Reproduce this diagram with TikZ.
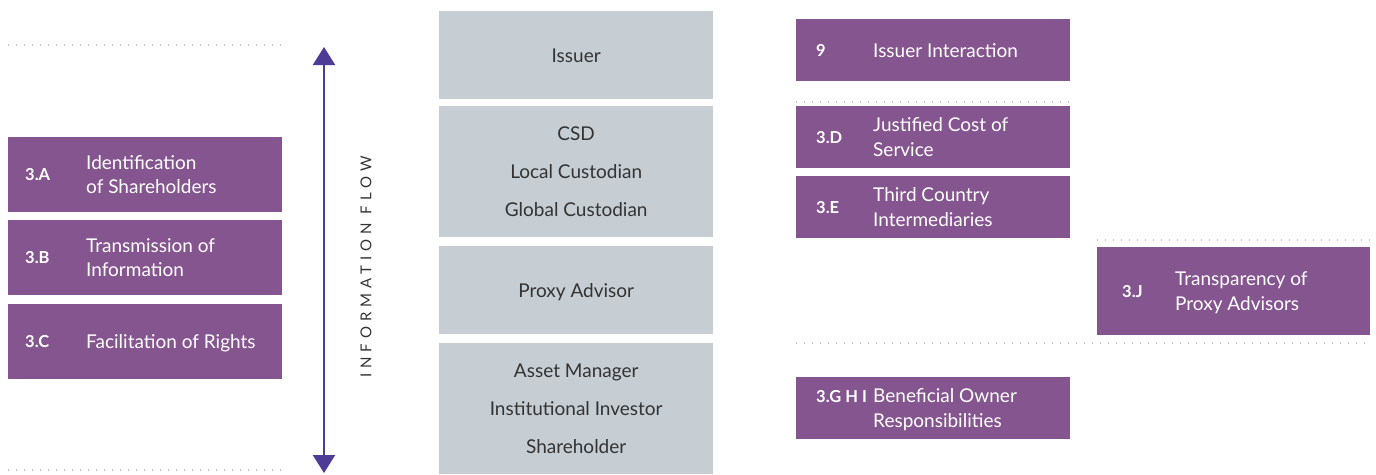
\documentclass[tikz,border=0pt]{standalone}
\usepackage{fontspec}
\setmainfont{Lato}
\usetikzlibrary{arrows.meta,positioning}

\definecolor{artpurple}{HTML}{85558F}
\definecolor{chaingray}{HTML}{C6CED4}
\definecolor{flowblue}{HTML}{4D3B97}
\definecolor{dotgray}{HTML}{C4C4C4}
\definecolor{inktext}{HTML}{333333}

\begin{document}
\begin{tikzpicture}[x=1pt,y=-1pt,
                    artbox/.style={rectangle, fill=artpurple, minimum width=274pt, inner sep=0pt, anchor=north west},
                    chainbox/.style={rectangle, fill=chaingray, minimum width=274pt, inner sep=0pt, anchor=north west,
                                     text=inktext, align=center, text depth=-5pt, font=\fontsize{19}{38}\selectfont},
                    code/.style={anchor=west, inner sep=0pt, text=white, text depth=-1pt, font=\fontsize{16.5}{20}\selectfont\bfseries},
                    title/.style={anchor=west, inner sep=0pt, text=white, align=left, text depth=-2pt, font=\fontsize{19}{24.5}\selectfont},
                    divider/.style={dotgray, line width=1.1pt, dash pattern=on 1.2pt off 6.8pt}]
  \useasboundingbox (0,0) rectangle (1376,474);

  % dotted dividers
  \coordinate (ltop a) at (8,45);     \coordinate (ltop b) at (282,45);
  \coordinate (lbot a) at (8,470);    \coordinate (lbot b) at (282,470);
  \coordinate (rtop a) at (796,102);  \coordinate (rtop b) at (1070,102);
  \coordinate (rmid a) at (1097,240); \coordinate (rmid b) at (1370,240);
  \coordinate (rlow a) at (796,343);  \coordinate (rlow b) at (1370,343);
  \draw[divider] (ltop a) -- (ltop b);
  \draw[divider] (lbot a) -- (lbot b);
  \draw[divider] (rtop a) -- (rtop b);
  \draw[divider] (rmid a) -- (rmid b);
  \draw[divider] (rlow a) -- (rlow b);

  % left column
  \node[artbox, minimum height=75pt] (ida) at (8,137) {};
  \node[code] at ([xshift=17pt]ida.west) {3.A};
  \node[title] at ([xshift=78pt]ida.west) {Identification\\of Shareholders};
  \node[artbox, minimum height=75pt] (idb) at (8,220) {};
  \node[code] at ([xshift=17pt]idb.west) {3.B};
  \node[title] at ([xshift=78pt]idb.west) {Transmission of\\Information};
  \node[artbox, minimum height=75pt] (idc) at (8,304) {};
  \node[code] at ([xshift=17pt]idc.west) {3.C};
  \node[title] at ([xshift=78pt]idc.west) {Facilitation of Rights};

  % flow arrow
  \coordinate (flowtop) at (324,47);
  \coordinate (flowbot) at (324,473);
  \draw[flowblue, line width=2.4pt, {Triangle[width=22pt,length=18pt]}-{Triangle[width=22pt,length=18pt]}] (flowtop) -- (flowbot);
  \node[rotate=90, inner sep=0pt, text=inktext, font=\fontsize{15}{15}\selectfont\addfontfeature{LetterSpace=33}] (flowlabel) at (366,267) {INFORMATION FLOW};

  % chain
  \node[chainbox, minimum height=88pt] (issuer) at (439,11) {Issuer};
  \node[chainbox, minimum height=131pt] (custody) at (439,106) {CSD\\Local Custodian\\Global Custodian};
  \node[chainbox, minimum height=88pt] (proxy) at (439,246) {Proxy Advisor};
  \node[chainbox, minimum height=131pt] (investor) at (439,343) {Asset Manager\\Institutional Investor\\Shareholder};

  % right column
  \node[artbox, minimum height=62pt] (art9) at (796,19) {};
  \node[code] at ([xshift=20pt]art9.west) {9};
  \node[title] at ([xshift=77pt]art9.west) {Issuer Interaction};
  \node[artbox, minimum height=62pt] (idd) at (796,106) {};
  \node[code] at ([xshift=20pt]idd.west) {3.D};
  \node[title] at ([xshift=77pt]idd.west) {Justified Cost of\\Service};
  \node[artbox, minimum height=62pt] (ide) at (796,176) {};
  \node[code] at ([xshift=20pt]ide.west) {3.E};
  \node[title] at ([xshift=77pt]ide.west) {Third Country\\Intermediaries};
  \node[artbox, minimum height=88pt, minimum width=273pt] (idj) at (1097,247) {};
  \node[code] at ([xshift=25pt]idj.west) {3.J};
  \node[title] at ([xshift=78pt]idj.west) {Transparency of\\Proxy Advisors};
  \node[artbox, minimum height=62pt] (idghi) at (796,377) {};
  \node[code, anchor=north west] (ghicode) at ([xshift=20pt, yshift=-13pt]idghi.north west) {3.G H I};
  \node[title] at ([xshift=77pt]idghi.west) {Beneficial Owner\\Responsibilities};
\end{tikzpicture}
\end{document}
